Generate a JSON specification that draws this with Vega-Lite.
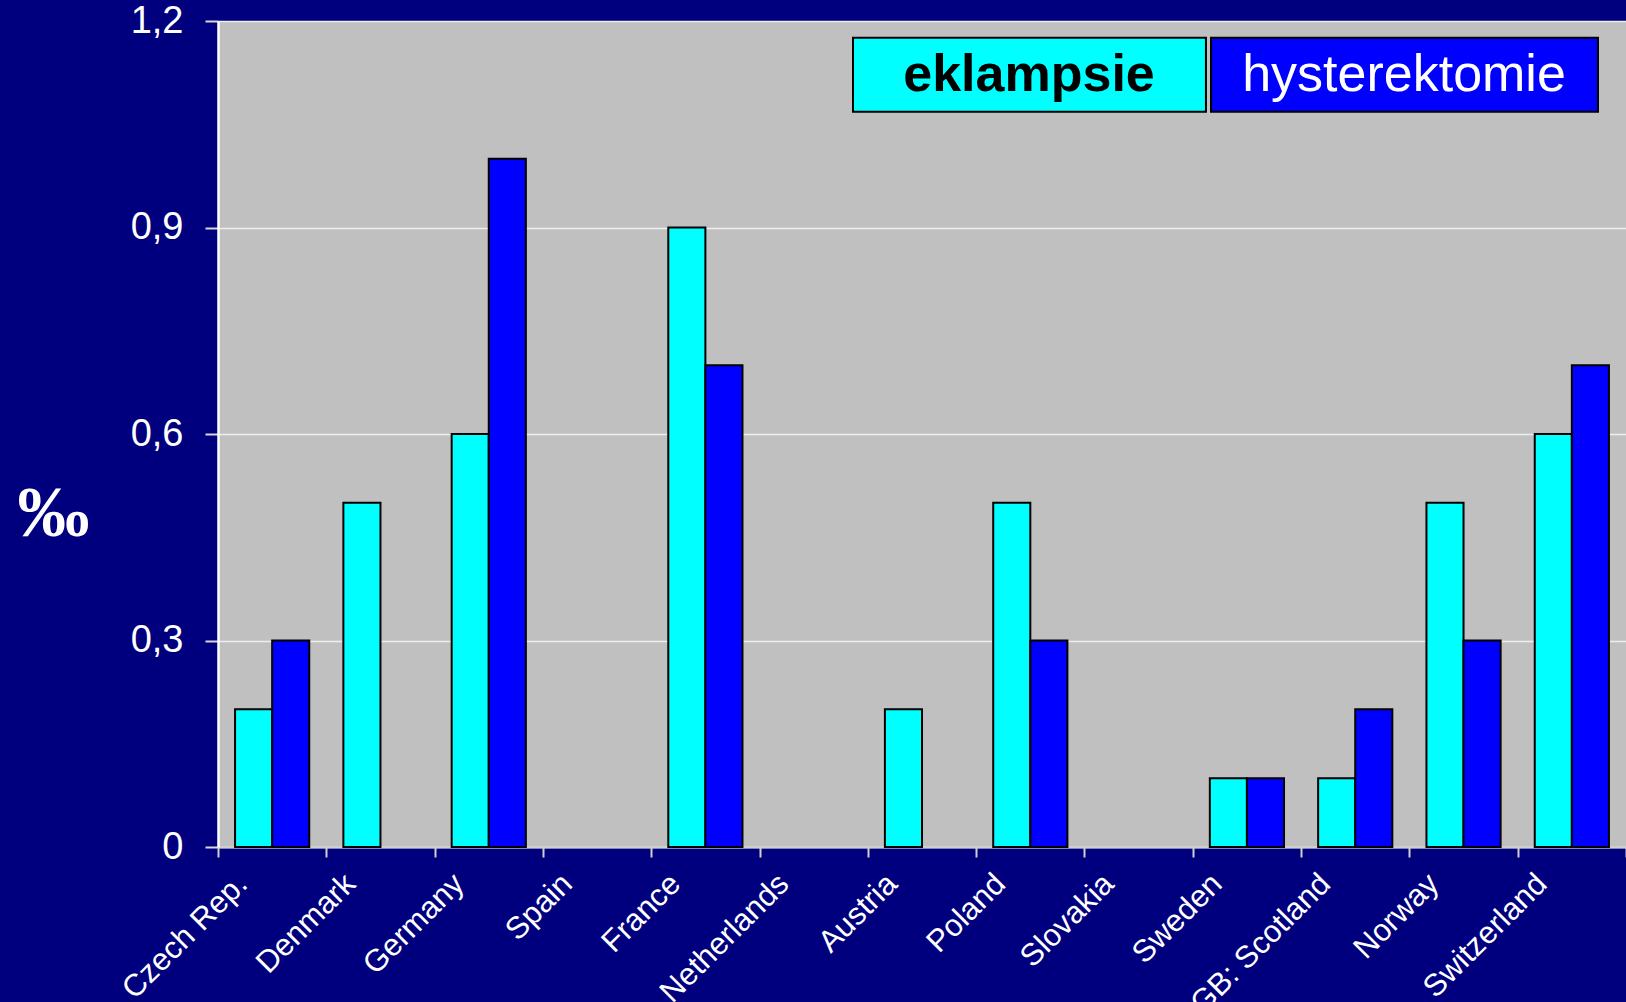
{
  "$schema": "https://vega.github.io/schema/vega-lite/v6.json",
  "width": 1408,
  "height": 826,
  "autosize": {"type": "none"},
  "padding": {"left": 218, "top": 21, "right": 0, "bottom": 155},
  "background": "#00007E",
  "config": {
    "view": {"fill": "#C0C0C0", "stroke": null},
    "font": "Liberation Sans"
  },
  "data": {
    "values": [
      {"country": "Czech Rep.", "series": "eklampsie", "value": 0.2},
      {"country": "Czech Rep.", "series": "hysterektomie", "value": 0.3},
      {"country": "Denmark", "series": "eklampsie", "value": 0.5},
      {"country": "Germany", "series": "eklampsie", "value": 0.6},
      {"country": "Germany", "series": "hysterektomie", "value": 1.0},
      {"country": "France", "series": "eklampsie", "value": 0.9},
      {"country": "France", "series": "hysterektomie", "value": 0.7},
      {"country": "Austria", "series": "eklampsie", "value": 0.2},
      {"country": "Poland", "series": "eklampsie", "value": 0.5},
      {"country": "Poland", "series": "hysterektomie", "value": 0.3},
      {"country": "Sweden", "series": "eklampsie", "value": 0.1},
      {"country": "Sweden", "series": "hysterektomie", "value": 0.1},
      {"country": "GB: Scotland", "series": "eklampsie", "value": 0.1},
      {"country": "GB: Scotland", "series": "hysterektomie", "value": 0.2},
      {"country": "Norway", "series": "eklampsie", "value": 0.5},
      {"country": "Norway", "series": "hysterektomie", "value": 0.3},
      {"country": "Switzerland", "series": "eklampsie", "value": 0.6},
      {"country": "Switzerland", "series": "hysterektomie", "value": 0.7}
    ]
  },
  "mark": {"type": "bar", "stroke": "black", "strokeWidth": 2, "opacity": 1},
  "encoding": {
    "x": {
      "field": "country",
      "type": "nominal",
      "sort": null,
      "scale": {
        "domain": ["Czech Rep.", "Denmark", "Germany", "Spain", "France", "Netherlands", "Austria", "Poland", "Slovakia", "Sweden", "GB: Scotland", "Norway", "Switzerland"],
        "paddingInner": 0,
        "paddingOuter": 0
      },
      "axis": {
        "title": null,
        "grid": false,
        "domainColor": "#D0D0D0",
        "domainWidth": 2,
        "tickBand": "extent",
        "tickColor": "#D0D0D0",
        "tickSize": 10,
        "tickWidth": 2,
        "labelAngle": -45,
        "labelAlign": "right",
        "labelBaseline": "middle",
        "labelPadding": 22,
        "labelOffset": -30,
        "labelColor": "white",
        "labelFont": "Liberation Sans",
        "labelFontSize": 31,
        "labelLimit": 0
      }
    },
    "xOffset": {
      "field": "series",
      "type": "nominal",
      "scale": {"domain": ["eklampsie", "hysterektomie"], "paddingInner": 0, "paddingOuter": 0.46}
    },
    "y": {
      "field": "value",
      "type": "quantitative",
      "scale": {"domain": [0, 1.2], "nice": false, "zero": true},
      "axis": {
        "values": [0, 0.3, 0.6, 0.9, 1.2],
        "labelExpr": "datum.value == 0 ? '0' : replace(format(datum.value, '.1f'), '.', ',')",
        "grid": true,
        "gridColor": "#EEEEEE",
        "gridWidth": 1.5,
        "domainColor": "white",
        "domainWidth": 2.5,
        "tickColor": "#D8D8D8",
        "tickSize": 13,
        "tickWidth": 2,
        "labelColor": "white",
        "labelFont": "Liberation Sans",
        "labelFontSize": 38,
        "labelPadding": 22,
        "title": "‰",
        "titleAngle": 0,
        "titleX": -165,
        "titleY": 492,
        "titleAlign": "center",
        "titleBaseline": "middle",
        "titleFont": "Liberation Serif",
        "titleFontSize": 72,
        "titleFontWeight": "bold",
        "titleColor": "white"
      }
    },
    "color": {
      "field": "series",
      "type": "nominal",
      "scale": {"domain": ["eklampsie", "hysterektomie"], "range": ["#00FFFF", "#0000FF"]},
      "legend": {
        "orient": "none",
        "legendX": 634,
        "legendY": -141,
        "direction": "horizontal",
        "title": null,
        "padding": 0,
        "columnPadding": -12,
        "symbolType": "M-1,-0.191H1V0.191H-1Z",
        "symbolSize": 149769,
        "symbolStrokeColor": "black",
        "symbolStrokeWidth": 2,
        "symbolOpacity": 1,
        "labelAlign": "center",
        "labelOffset": -195,
        "labelFont": "Liberation Sans",
        "labelFontSize": 52,
        "labelLimit": 0,
        "encode": {
          "symbols": {
            "update": {
              "stroke": {"value": "black"},
              "strokeWidth": {"value": 2},
              "shape": {"signal": "datum.value == 'eklampsie' ? 'M-1,-0.191H0.824V0.191H-1Z' : 'M-1,-0.191H1V0.191H-1Z'"}
            }
          },
          "labels": {
            "update": {
              "fill": {"signal": "datum.value == 'eklampsie' ? 'black' : 'white'"},
              "fontWeight": {"signal": "datum.value == 'eklampsie' ? 'bold' : 'normal'"},
              "dx": {"signal": "datum.value == 'eklampsie' ? -17 : 0"}
            }
          }
        }
      }
    }
  }
}
